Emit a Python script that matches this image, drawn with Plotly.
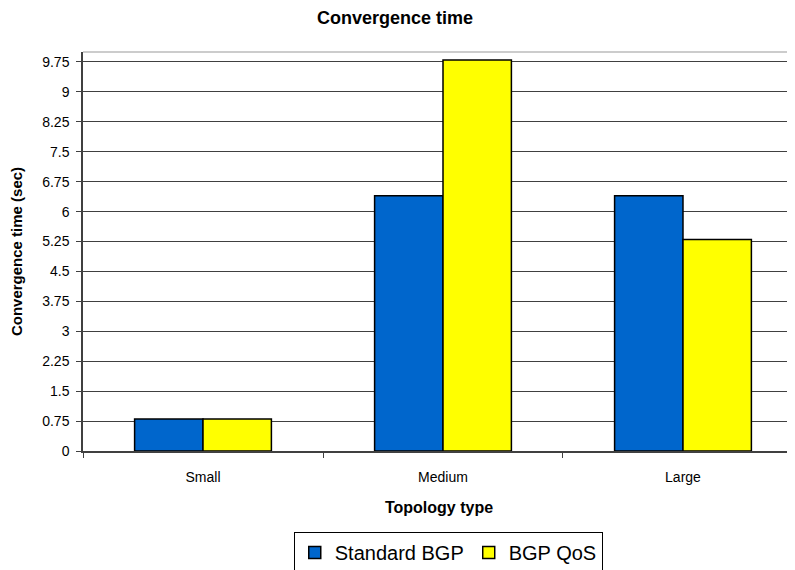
import plotly.graph_objects as go

categories = ["Small", "Medium", "Large"]
standard_bgp = [0.8, 6.4, 6.4]
bgp_qos = [0.8, 9.8, 5.3]
y_ticks = [0, 0.75, 1.5, 2.25, 3, 3.75, 4.5, 5.25, 6, 6.75, 7.5, 8.25, 9, 9.75]
y_tick_labels = ["0", "0.75", "1.5", "2.25", "3", "3.75", "4.5", "5.25", "6", "6.75", "7.5", "8.25", "9", "9.75"]

FONT = "Liberation Sans, Arial, sans-serif"

# the page body adds an 8px offset, so the figure is sized to fill the rest of the window
W, H = 787, 562

fig = go.Figure()
fig.add_trace(go.Bar(name="Standard BGP", x=categories, y=standard_bgp,
                     marker=dict(color="#0066CC", line=dict(color="#000000", width=1.5))))
fig.add_trace(go.Bar(name="BGP QoS", x=categories, y=bgp_qos,
                     marker=dict(color="#FFFF00", line=dict(color="#000000", width=1.5))))

fig.update_layout(
    width=W, height=H,
    margin=dict(l=75, r=0, t=44, b=119, autoexpand=False),
    paper_bgcolor="white", plot_bgcolor="white",
    barmode="group", bargap=0.43, bargroupgap=0,
    font=dict(family=FONT, color="#000000", size=14),
    title=dict(text="<b>Convergence time</b>", x=387 / W, xref="container", xanchor="center",
               y=1 - 10 / H, yref="container", yanchor="middle", font=dict(size=18, family=FONT)),
    showlegend=True,
    legend=dict(orientation="h", x=0.513, xanchor="center", y=-0.203, yanchor="top",
                bordercolor="#000000", borderwidth=1, bgcolor="white",
                font=dict(size=20, family=FONT), traceorder="normal",
                itemwidth=30),
)

fig.update_xaxes(
    range=[-0.5, 2.4667], automargin=False,
    tickson="boundaries", ticks="outside", ticklen=5, tickcolor="#404040",
    ticklabelstandoff=12,
    showline=True, linecolor="#404040", linewidth=1.5,
    showgrid=False,
    tickfont=dict(size=14, family=FONT),
    title=dict(text="<b>Topology type</b>", font=dict(size=16, family=FONT), standoff=18),
)
fig.update_yaxes(
    range=[0, 10], automargin=False,
    tickmode="array", tickvals=y_ticks, ticktext=y_tick_labels,
    ticks="outside", ticklen=5, tickcolor="#404040",
    ticklabelstandoff=4,
    showline=True, linecolor="#404040", linewidth=1.5,
    showgrid=True, gridcolor="#404040", gridwidth=1.2,
    zeroline=False,
    tickfont=dict(size=14, family=FONT),
    title=dict(text="<b>Convergence time (sec)</b>", font=dict(size=15, family=FONT), standoff=18),
)

# light top border of the plot area
fig.add_shape(type="line", xref="paper", yref="paper", x0=0, x1=1, y0=1, y1=1,
              line=dict(color="#BBBBBB", width=1.5))

fig.write_html("out.html")
